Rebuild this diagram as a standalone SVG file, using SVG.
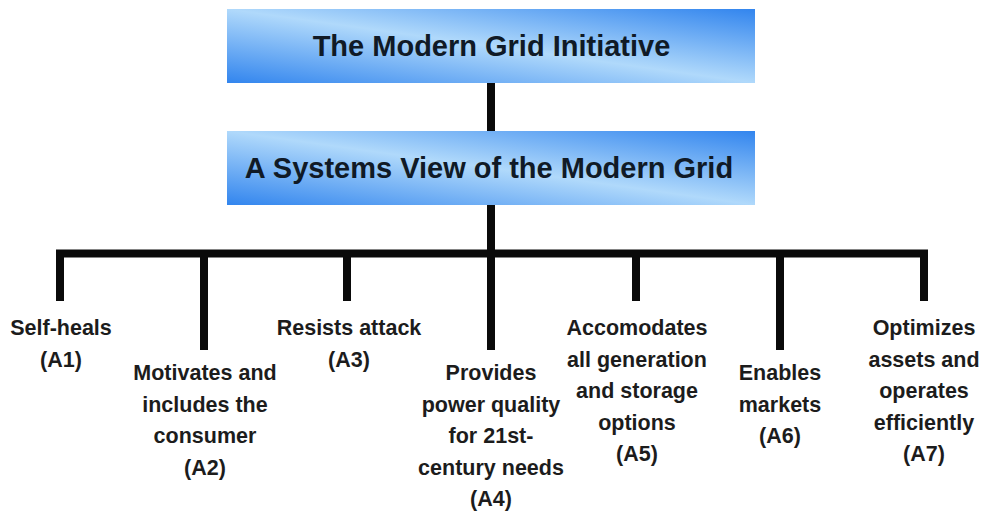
<svg xmlns="http://www.w3.org/2000/svg" width="982" height="516" viewBox="0 0 982 516">
<defs>
<linearGradient id="boxGrad" x1="0" y1="1" x2="1" y2="0">
<stop offset="0" stop-color="#3285ee"/>
<stop offset="0.5" stop-color="#b0d9fb"/>
<stop offset="1" stop-color="#3285ee"/>
</linearGradient>
</defs>
<style>
.box{fill:url(#boxGrad);}
.title{font-family:"Liberation Sans",Arial,sans-serif;font-weight:bold;font-size:29px;fill:#101a26;text-anchor:middle;}
.lbl{font-family:"Liberation Sans",Arial,sans-serif;font-weight:bold;font-size:21.5px;fill:#1c1c1c;text-anchor:middle;}
.conn{stroke:#0a0a0a;stroke-width:8;fill:none;stroke-linecap:butt;}
</style>
<rect width="982" height="516" fill="#ffffff"/>
<g id="connectors">
<line class="conn" x1="491" y1="82" x2="491" y2="131"/>
<line class="conn" x1="491" y1="205" x2="491" y2="350"/>
<line class="conn" x1="56" y1="253.5" x2="928" y2="253.5"/>
<line class="conn" x1="60" y1="250" x2="60" y2="301"/>
<line class="conn" x1="204" y1="250" x2="204" y2="350"/>
<line class="conn" x1="347" y1="250" x2="347" y2="301"/>
<line class="conn" x1="636" y1="250" x2="636" y2="301"/>
<line class="conn" x1="780" y1="250" x2="780" y2="350"/>
<line class="conn" x1="924" y1="250" x2="924" y2="301"/>
</g>
<g id="modern-grid-initiative">
<rect class="box" x="227" y="9" width="528" height="74"/>
<text class="title" x="491.5" y="56">The Modern Grid Initiative</text>
</g>
<g id="systems-view">
<rect class="box" x="227" y="131" width="528" height="74"/>
<text class="title" x="489" y="178">A Systems View of the Modern Grid</text>
</g>
<g id="A1">
<text class="lbl" x="61" y="335">Self-heals</text>
<text class="lbl" x="61" y="366.5">(A1)</text>
</g>
<g id="A2">
<text class="lbl" x="205" y="380">Motivates and</text>
<text class="lbl" x="205" y="411.5">includes the</text>
<text class="lbl" x="205" y="443">consumer</text>
<text class="lbl" x="205" y="474.5">(A2)</text>
</g>
<g id="A3">
<text class="lbl" x="349" y="335">Resists attack</text>
<text class="lbl" x="349" y="366.5">(A3)</text>
</g>
<g id="A4">
<text class="lbl" x="491" y="380">Provides</text>
<text class="lbl" x="491" y="411.5">power quality</text>
<text class="lbl" x="491" y="443">for 21st-</text>
<text class="lbl" x="491" y="474.5">century needs</text>
<text class="lbl" x="491" y="506">(A4)</text>
</g>
<g id="A5">
<text class="lbl" x="637" y="335">Accomodates</text>
<text class="lbl" x="637" y="366.5">all generation</text>
<text class="lbl" x="637" y="398">and storage</text>
<text class="lbl" x="637" y="429.5">options</text>
<text class="lbl" x="637" y="461">(A5)</text>
</g>
<g id="A6">
<text class="lbl" x="780" y="380">Enables</text>
<text class="lbl" x="780" y="411.5">markets</text>
<text class="lbl" x="780" y="443">(A6)</text>
</g>
<g id="A7">
<text class="lbl" x="924" y="335">Optimizes</text>
<text class="lbl" x="924" y="366.5">assets and</text>
<text class="lbl" x="924" y="398">operates</text>
<text class="lbl" x="924" y="429.5">efficiently</text>
<text class="lbl" x="924" y="461">(A7)</text>
</g>
</svg>
